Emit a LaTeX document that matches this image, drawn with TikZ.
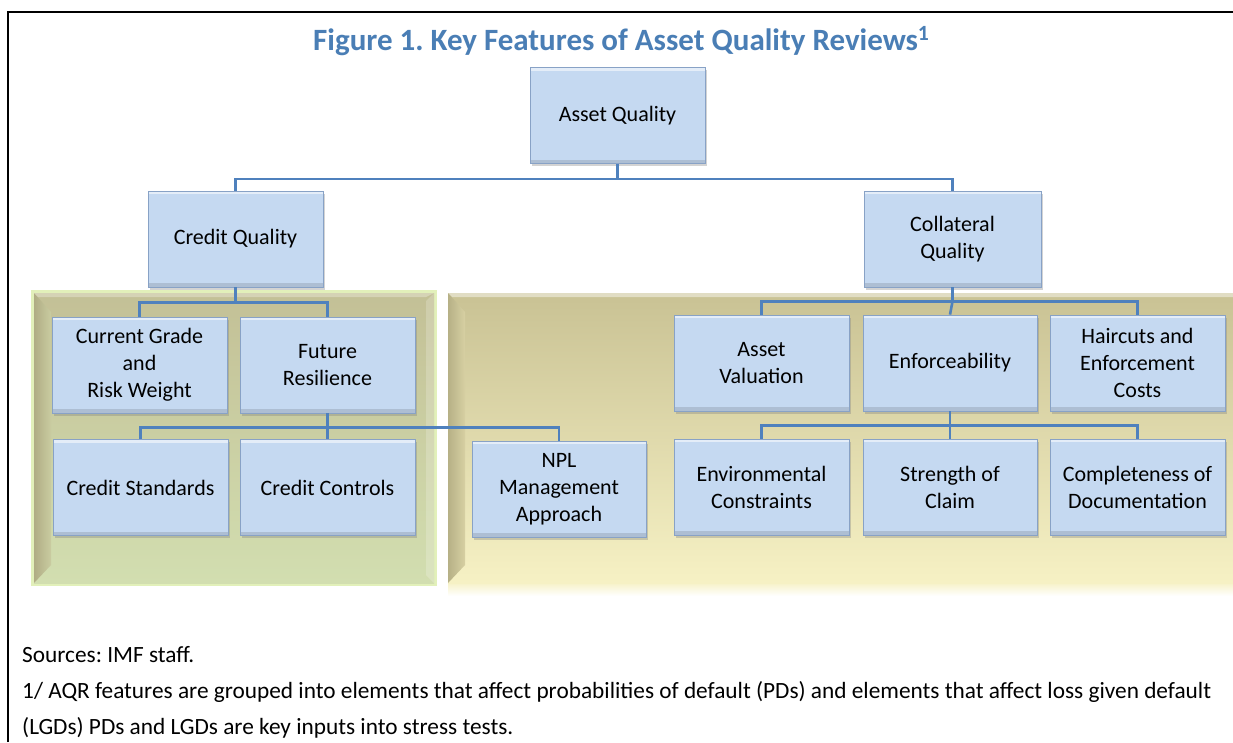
\documentclass[tikz,border=0pt]{standalone}
\usepackage{fontspec}
\setmainfont{Carlito}
\usetikzlibrary{calc,shadows}
\frenchspacing

\definecolor{boxfill}{RGB}{197,217,241}
\definecolor{boxedge}{RGB}{136,162,198}
\definecolor{linkblue}{RGB}{79,129,189}
\definecolor{titleblue}{RGB}{74,126,181}
\definecolor{greenglow}{RGB}{226,240,186}
\definecolor{greentop}{RGB}{195,192,150}
\definecolor{greenbot}{RGB}{210,222,176}
\definecolor{greenbevel}{RGB}{176,172,132}
\definecolor{yellowtop}{RGB}{201,194,148}
\definecolor{yellowbot}{RGB}{246,241,196}
\definecolor{yellowbevel}{RGB}{182,176,134}

\tikzset{
  box/.style={draw=boxedge, line width=0.8, fill=boxfill, minimum width=175, minimum height=96,
    align=center, inner sep=2, font=\fontsize{22}{27}\selectfont,
    drop shadow={shadow xshift=2pt, shadow yshift=-2.5pt, opacity=0.35},
    path picture={
      \fill[white, opacity=0.55] (path picture bounding box.north west) rectangle ([yshift=-3pt]path picture bounding box.north east);
      \fill[black, opacity=0.12] ([yshift=4pt]path picture bounding box.south west) rectangle (path picture bounding box.south east);
    }},
  link/.style={draw=linkblue, line width=2.6},
  foot/.style={anchor=base west, inner sep=0, font=\fontsize{23.3}{27}\selectfont},
}

\begin{document}
\begin{tikzpicture}[x=1pt, y=-1pt]
			%%%%% START %%%%%
			\useasboundingbox (0, 0) rectangle (1233, 742);
			\clip (0, 0) rectangle (1233, 742);
			
			\draw[line width=2] (8, 742) -- (8, 12) -- (1240, 12);
			
			\node[anchor=base west, inner sep=0, text=titleblue, font=\bfseries\fontsize{31}{36}\selectfont] (title) at (313, 50) {Figure 1. Key Features of Asset Quality Reviews\textsuperscript{1}};
			
			% PD panel
			\fill[greenglow] (31, 290) rectangle (437, 586);
			\shade[top color=greentop, bottom color=greenbot] (34, 293) rectangle (434, 583);
			\shade[left color=greenbevel, right color=greentop!60!greenbot] (34, 293) -- (51, 312) -- (51, 565) -- (34, 583) -- cycle;
			\fill[white, opacity=0.3] (34, 293) -- (434, 293) -- (426, 297) -- (38, 297) -- cycle;
			\fill[white, opacity=0.2] (434, 293) -- (426, 301) -- (426, 575) -- (434, 583) -- cycle;
			
			% LGD panel
			\shade[top color=yellowbot, bottom color=white] (448, 582) rectangle (1240, 596);
			\shade[top color=yellowtop, bottom color=yellowbot] (448, 293) rectangle (1240, 583);
			\shade[left color=yellowbevel, right color=yellowtop!70!yellowbot] (448, 293) -- (465, 312) -- (465, 565) -- (448, 583) -- cycle;
			\fill[white, opacity=0.45] (448, 293) -- (1240, 293) -- (1240, 297) -- (452, 297) -- cycle;
			
			% boxes
			\node[box] (aq) at (617.5, 115.5) {Asset Quality};
			\node[box] (cq) at (235.5, 239) {Credit Quality};
			\node[box, minimum width=177] (colq) at (952.5, 239) {Collateral\\Quality};
			
			\node[box] (cg) at (139.5, 365) {Current Grade\\and\\Risk Weight};
			\node[box] (fr) at (327.5, 365) {Future\\Resilience};
			\node[box] (cs) at (140.5, 487.5) {Credit Standards};
			\node[box] (cc) at (327.5, 487.5) {Credit Controls};
			\node[box, minimum width=174] (npl) at (559, 489) {NPL\\Management\\Approach};
			
			\node[box] (av) at (761.5, 363) {Asset\\Valuation};
			\node[box, minimum width=174] (enf) at (950, 363) {Enforceability};
			\node[box] (hc) at (1137.5, 363) {Haircuts and\\Enforcement\\Costs};
			\node[box] (env) at (761.5, 487) {Environmental\\Constraints};
			\node[box, minimum width=174] (soc) at (950, 487) {Strength of\\Claim};
			\node[box] (cod) at (1137.5, 487) {Completeness of\\Documentation};
			
			% connectors
			\draw[link] (aq.south) -- ++(0, 15) coordinate (aqbar) -| (cq.north);
			\draw[link] (aqbar) -| (colq.north);
			
			\draw[link] (cq.south) -- ++(0, 15) coordinate (cqbar) -| (cg.north);
			\draw[link] (cqbar) -| (fr.north);
			
			\draw[link] (fr.south) -- ++(0, 14) coordinate (frbar) -| (cs.north);
			\draw[link] (frbar) -- (cc.north);
			\draw[link] (frbar) -| (npl.north);
			
			\draw[link] (colq.south) -- ++(0, 14) coordinate (colbar) -| (av.north);
			\draw[link] (colbar) -- (enf.north);
			\draw[link] (colbar) -| (hc.north);
			
			\draw[link] (enf.south) -- ++(0, 14) coordinate (enfbar) -| (env.north);
			\draw[link] (enfbar) -- (soc.north);
			\draw[link] (enfbar) -| (cod.north);
			
			% notes
			\node[foot] (src) at (22, 662) {Sources: IMF staff.};
			\node[foot] (fn) at (22, 698) {1/ AQR features are grouped into elements that affect probabilities of default (PDs) and elements that affect loss given default};
			\node[foot] (fn2) at (22, 734) {(LGDs) PDs and LGDs are key inputs into stress tests.};
			
			%%%%% END %%%%%
\end{tikzpicture}
\end{document}
